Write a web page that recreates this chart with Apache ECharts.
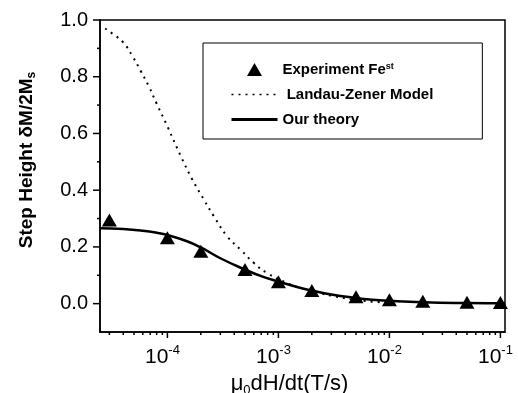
<!DOCTYPE html>
<html>
<head>
<meta charset="utf-8">
<script src="https://cdn.jsdelivr.net/npm/echarts@6/dist/echarts.min.js"></script>
<style>
  html, body { margin: 0; padding: 0; background: #fff; }
  #chart { width: 518px; height: 393px; }
</style>
</head>
<body>
<div id="chart"></div>
<script>
// sweep rate (T/s) and step height
const expRate = [3e-5, 1e-4, 2e-4, 5e-4, 1e-3, 2e-3, 5e-3, 1e-2, 2e-2, 5e-2, 1e-1];
const expStep = [0.295, 0.232, 0.185, 0.12, 0.077, 0.046, 0.024, 0.014, 0.008, 0.005, 0.004];

const theoryRate = [2.47e-5, 4e-5, 6e-5, 8e-5, 1e-4, 1.5e-4, 2e-4, 3e-4, 5e-4, 7e-4, 1e-3, 1.5e-3, 2e-3, 3e-3, 5e-3, 7e-3, 1e-2, 2e-2, 5e-2, 0.11];
const theoryStep = [0.266, 0.263, 0.257, 0.25, 0.242, 0.22, 0.198, 0.16, 0.12, 0.097, 0.078, 0.058, 0.046, 0.032, 0.02, 0.014, 0.01, 0.005, 0.002, 0.001];

const lzRate = [2.75e-5, 3.3e-5, 4e-5, 4.85e-5, 5.75e-5, 6.8e-5, 8e-5, 1e-4, 1.32e-4, 1.68e-4, 2.13e-4, 2.62e-4, 3.46e-4, 4.57e-4, 6e-4, 7.9e-4, 1.19e-3, 1.58e-3, 2.2e-3, 3e-3, 4.5e-3, 7e-3, 1.2e-2];
const lzStep = [0.97, 0.948, 0.921, 0.872, 0.82, 0.766, 0.705, 0.625, 0.52, 0.437, 0.367, 0.308, 0.237, 0.19, 0.144, 0.108, 0.073, 0.055, 0.04, 0.028, 0.016, 0.007, 0.002];

const xMajorTicks = [1e-4, 1e-3, 1e-2, 1e-1];
const xMinorTicks = [
  3e-5, 4e-5, 5e-5, 6e-5, 7e-5, 8e-5, 9e-5,
  2e-4, 3e-4, 4e-4, 5e-4, 6e-4, 7e-4, 8e-4, 9e-4,
  2e-3, 3e-3, 4e-3, 5e-3, 6e-3, 7e-3, 8e-3, 9e-3,
  2e-2, 3e-2, 4e-2, 5e-2, 6e-2, 7e-2, 8e-2, 9e-2
];
const yMajorTicks = [0, 0.2, 0.4, 0.6, 0.8, 1.0];
const yMinorTicks = [0.1, 0.3, 0.5, 0.7, 0.9];

const X_MIN = 2.47e-5, X_MAX = 0.11;
const Y_MIN = -0.1, Y_MAX = 1.0;
const FONT = '"Liberation Sans", Arial, sans-serif';

// legend triangle, padded out to the full 46x14 icon box so it is not stretched
const LEGEND_TRIANGLE = 'path://M0,0 M46,14 M23,0.5 L30.5,13.5 L15.5,13.5 Z';

const chart = echarts.init(document.getElementById('chart'));

function xTick(len) {
  return (params, api) => {
    const p = api.coord([api.value(0), Y_MIN]);
    return {
      type: 'line',
      shape: { x1: p[0], y1: p[1], x2: p[0], y2: p[1] + len },
      style: { stroke: '#000', lineWidth: 1.5 },
    };
  };
}
function yTick(len) {
  return (params, api) => {
    const p = api.coord([X_MIN, api.value(1)]);
    return {
      type: 'line',
      shape: { x1: p[0] - len, y1: p[1], x2: p[0], y2: p[1] },
      style: { stroke: '#000', lineWidth: 1.5 },
    };
  };
}

chart.setOption({
  backgroundColor: '#fff',
  animation: false,
  grid: {
    left: 100, top: 20, right: 13, bottom: 61,
    outerBoundsMode: 'none',
    containLabel: false,
    show: true, borderColor: '#000', borderWidth: 1.5,
  },
  legend: {
    left: 203, top: 43,
    orient: 'vertical',
    padding: [19, 49, 12, 27],
    itemGap: 10,
    itemWidth: 46,
    itemHeight: 14,
    borderColor: '#000',
    borderWidth: 1,
    backgroundColor: '#fff',
    data: [
      { name: 'Experiment Fe', icon: LEGEND_TRIANGLE },
      { name: 'Landau-Zener Model', itemStyle: { opacity: 0 }, lineStyle: { width: 1.5, type: [2, 5] } },
      { name: 'Our theory', itemStyle: { opacity: 0 }, lineStyle: { width: 3 } },
    ],
    formatter: name => {
      if (name === 'Experiment Fe') return '{b|Experiment Fe}{sup|st}';
      if (name === 'Landau-Zener Model') return '{b| Landau-Zener Model}';
      return '{b|' + name + '}';
    },
    textStyle: {
      rich: {
        b: { fontFamily: FONT, fontWeight: 'bold', fontSize: 15, color: '#000' },
        sup: { fontFamily: FONT, fontWeight: 'bold', fontSize: 9, color: '#000', verticalAlign: 'top' },
      },
    },
  },
  xAxis: {
    type: 'log',
    min: X_MIN,
    max: X_MAX,
    name: '{a|μ}{sub|0}{a|dH/dt(T/s)}',
    nameLocation: 'middle',
    nameGap: 32,
    nameTextStyle: {
      padding: [0, 26, 0, 0],
      rich: {
        a: { fontFamily: FONT, fontSize: 22, color: '#000', verticalAlign: 'top' },
        sub: { fontFamily: FONT, fontSize: 13, color: '#000', padding: [11, 0, 0, 0], verticalAlign: 'bottom' },
      },
    },
    axisLine: { onZero: false, lineStyle: { color: '#000', width: 1.5 } },
    axisTick: { show: false },
    splitLine: { show: false },
    axisLabel: {
      margin: 12,
      showMinLabel: false,
      showMaxLabel: false,
      formatter: v => '{n|10}{e|' + Math.round(Math.log10(v)) + '}',
      rich: {
        n: { fontFamily: FONT, fontSize: 21, color: '#000', verticalAlign: 'bottom' },
        e: { fontFamily: FONT, fontSize: 13, color: '#000', padding: [0, 10, 11, 0], verticalAlign: 'bottom' },
      },
    },
  },
  yAxis: {
    type: 'value',
    min: Y_MIN,
    max: Y_MAX,
    interval: 0.1,
    name: '{a|Step Height δM/2M}{s|s}',
    nameLocation: 'middle',
    nameGap: 62,
    nameTextStyle: {
      padding: [0, 0, 0, 32],
      rich: {
        a: { fontFamily: FONT, fontWeight: 'bold', fontSize: 19, color: '#000', verticalAlign: 'top' },
        s: { fontFamily: FONT, fontWeight: 'bold', fontSize: 12, color: '#000', padding: [9, 0, 0, 0], verticalAlign: 'bottom' },
      },
    },
    axisLine: { show: true, lineStyle: { color: '#000', width: 1.5 } },
    axisTick: { show: false },
    splitLine: { show: false },
    axisLabel: {
      margin: 12,
      fontFamily: FONT,
      fontSize: 20,
      color: '#000',
      formatter: v => (Math.round(v * 10) % 2 === 0 ? v.toFixed(1) : ''),
    },
  },
  series: [
    {
      name: 'Landau-Zener Model',
      type: 'line',
      data: lzRate.map((x, i) => [x, lzStep[i]]),
      symbol: 'none',
      smooth: true,
      itemStyle: { color: '#000' },
      lineStyle: { color: '#000', width: 2, type: [2, 5] },
      z: 2,
    },
    {
      name: 'Our theory',
      type: 'line',
      data: theoryRate.map((x, i) => [x, theoryStep[i]]),
      symbol: 'none',
      smooth: true,
      itemStyle: { color: '#000' },
      lineStyle: { color: '#000', width: 2.5 },
      z: 3,
    },
    {
      name: 'Experiment Fe',
      type: 'scatter',
      data: expRate.map((x, i) => [x, expStep[i]]),
      symbol: 'triangle',
      symbolSize: [15, 13],
      itemStyle: { color: '#000', opacity: 1 },
      z: 4,
    },
    {
      type: 'custom', silent: true, clip: false,
      data: xMajorTicks.map(x => [x, Y_MIN]),
      renderItem: xTick(6),
    },
    {
      type: 'custom', silent: true, clip: false,
      data: xMinorTicks.map(x => [x, Y_MIN]),
      renderItem: xTick(3),
    },
    {
      type: 'custom', silent: true, clip: false,
      data: yMajorTicks.map(y => [X_MIN, y]),
      renderItem: yTick(7),
    },
    {
      type: 'custom', silent: true, clip: false,
      data: yMinorTicks.map(y => [X_MIN, y]),
      renderItem: yTick(3),
    },
  ],
});

window.addEventListener('resize', () => chart.resize());
</script>
</body>
</html>
